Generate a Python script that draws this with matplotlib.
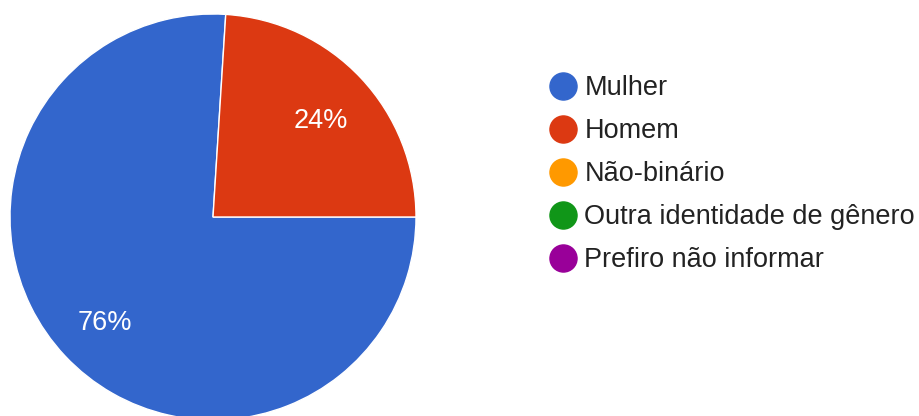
import matplotlib.pyplot as plt
from matplotlib.lines import Line2D
from matplotlib.transforms import offset_copy

plt.rcParams['font.family'] = ['Liberation Sans', 'DejaVu Sans']

labels = ['Mulher', 'Homem', 'Não-binário', 'Outra identidade de gênero', 'Prefiro não informar']
values = [76, 24, 0, 0, 0]
colors = ['#3366CC', '#DC3912', '#FF9900', '#109618', '#990099']

W, H = 919, 416
fig = plt.figure(figsize=(W / 100, H / 100), dpi=100)

# pie area in pixels: left 10, top 14, diameter 406 (bottom is cut off)
ax = fig.add_axes([10 / W, (H - 420) / H, 406 / W, 406 / H])

nz = [(v, c) for v, c in zip(values, colors) if v > 0]
wedges, texts, autotexts = ax.pie(
    [v for v, c in nz], colors=[c for v, c in nz], startangle=0, counterclock=False,
    radius=1, autopct='%d%%', pctdistance=0.73,
    wedgeprops=dict(edgecolor='white', linewidth=1),
    textprops=dict(color='white', fontsize=19.5))
for t in autotexts:
    t.set_transform(offset_copy(t.get_transform(), fig=fig, x=0, y=-5, units='dots'))
ax.set_xlim(-1, 1)
ax.set_ylim(-1, 1)
ax.set_aspect('equal')
ax.axis('off')

handles = [Line2D([0], [0], marker='o', linestyle='none', markersize=19.5,
                  markerfacecolor=c, markeredgecolor=c) for c in colors]
fig.legend(handles, labels, loc='upper left', bbox_to_anchor=(549 / W, 1 - 75 / H),
           frameon=False, fontsize=19.5, handlelength=1.0, handletextpad=0.31,
           labelspacing=0.63, borderpad=0, borderaxespad=0, labelcolor='#222222')

fig.savefig('out.png', dpi=100)
